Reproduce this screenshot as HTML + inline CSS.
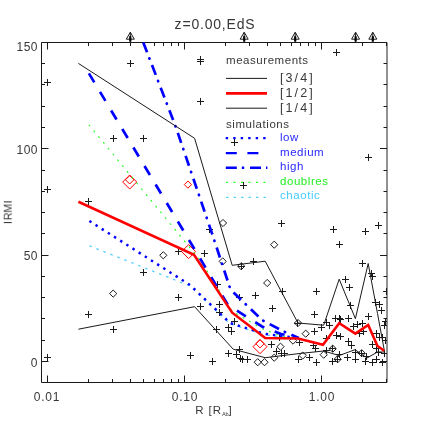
<!DOCTYPE html>
<html><head><meta charset="utf-8"><title>plot</title>
<style>
html,body{margin:0;padding:0;background:#fff;}
body{width:427px;height:427px;position:relative;overflow:hidden;font-family:"Liberation Sans",sans-serif;}
.t{position:absolute;will-change:transform;white-space:nowrap;line-height:1;font-family:"Liberation Sans",sans-serif;}
</style></head><body>
<svg width="427" height="427" viewBox="0 0 427 427" style="position:absolute;left:0;top:0">
<g stroke="#1a1a1a" stroke-width="1" fill="none">
<path d="M41.5 382.5V42.5H387.0"/>
<path d="M41.5 382.5H387.0"/>
<path d="M387.0 42.5V382.5" stroke="#222"/>
<path d="M47.50 382.5v-7M47.50 42.5v7M88.50 382.5v-3.5M88.50 42.5v3.5M112.50 382.5v-3.5M112.50 42.5v3.5M130.50 382.5v-3.5M130.50 42.5v3.5M143.50 382.5v-3.5M143.50 42.5v3.5M154.50 382.5v-3.5M154.50 42.5v3.5M163.50 382.5v-3.5M163.50 42.5v3.5M171.50 382.5v-3.5M171.50 42.5v3.5M178.50 382.5v-3.5M178.50 42.5v3.5M184.50 382.5v-7M184.50 42.5v7M225.50 382.5v-3.5M225.50 42.5v3.5M249.50 382.5v-3.5M249.50 42.5v3.5M267.50 382.5v-3.5M267.50 42.5v3.5M280.50 382.5v-3.5M280.50 42.5v3.5M291.50 382.5v-3.5M291.50 42.5v3.5M300.50 382.5v-3.5M300.50 42.5v3.5M308.50 382.5v-3.5M308.50 42.5v3.5M315.50 382.5v-3.5M315.50 42.5v3.5M321.50 382.5v-7M321.50 42.5v7M362.50 382.5v-3.5M362.50 42.5v3.5M386.50 382.5v-3.5M386.50 42.5v3.5M41.5 361.50h7M387.0 361.50h-7M41.5 340.50h3.5M387.0 340.50h-3.5M41.5 318.50h3.5M387.0 318.50h-3.5M41.5 297.50h3.5M387.0 297.50h-3.5M41.5 276.50h3.5M387.0 276.50h-3.5M41.5 255.50h7M387.0 255.50h-7M41.5 233.50h3.5M387.0 233.50h-3.5M41.5 212.50h3.5M387.0 212.50h-3.5M41.5 191.50h3.5M387.0 191.50h-3.5M41.5 170.50h3.5M387.0 170.50h-3.5M41.5 148.50h7M387.0 148.50h-7M41.5 127.50h3.5M387.0 127.50h-3.5M41.5 106.50h3.5M387.0 106.50h-3.5M41.5 84.50h3.5M387.0 84.50h-3.5M41.5 63.50h3.5M387.0 63.50h-3.5"/>
</g>
<clipPath id="cp"><rect x="41.5" y="42.5" width="345.5" height="340.0"/></clipPath>
<path clip-path="url(#cp)" fill="none" stroke="#1a1a1a" stroke-width="1" d="M127.0 63.5h7.0M130.5 60.0v7.0M44.0 82.5h7.0M47.5 79.0v7.0M197.0 59.5h7.0M200.5 56.0v7.0M197.0 61.5h7.0M200.5 58.0v7.0M197.0 101.5h7.0M200.5 98.0v7.0M110.0 138.5h7.0M113.5 135.0v7.0M140.0 138.5h7.0M143.5 135.0v7.0M44.0 189.5h7.0M47.5 186.0v7.0M85.0 201.5h7.0M88.5 198.0v7.0M333.0 52.5h7.0M336.5 49.0v7.0M365.0 157.5h7.0M368.5 154.0v7.0M278.0 223.5h7.0M281.5 220.0v7.0M330.0 229.5h7.0M333.5 226.0v7.0M362.0 231.5h7.0M365.5 228.0v7.0M375.0 225.5h7.0M378.5 222.0v7.0M336.0 244.5h7.0M339.5 241.0v7.0M206.0 229.5h7.0M209.5 226.0v7.0M231.0 142.5h7.0M234.5 139.0v7.0M240.0 185.5h7.0M243.5 182.0v7.0M175.0 251.5h7.0M178.5 248.0v7.0M201.0 253.5h7.0M204.5 250.0v7.0M140.0 272.5h7.0M143.5 269.0v7.0M175.0 297.5h7.0M178.5 294.0v7.0M197.0 306.5h7.0M200.5 303.0v7.0M85.0 314.5h7.0M88.5 311.0v7.0M110.0 329.5h7.0M113.5 326.0v7.0M44.0 357.5h7.0M47.5 354.0v7.0M187.0 355.5h7.0M190.5 352.0v7.0M209.0 361.5h7.0M212.5 358.0v7.0M216.0 304.5h7.0M219.5 301.0v7.0M216.0 312.5h7.0M219.5 309.0v7.0M214.0 284.5h7.0M217.5 281.0v7.0M213.0 329.5h7.0M216.5 326.0v7.0M231.0 321.5h7.0M234.5 318.0v7.0M225.0 327.5h7.0M228.5 324.0v7.0M228.0 331.5h7.0M231.5 328.0v7.0M236.0 297.5h7.0M239.5 294.0v7.0M225.0 353.5h7.0M228.5 350.0v7.0M233.0 354.5h7.0M236.5 351.0v7.0M237.0 358.5h7.0M240.5 355.0v7.0M236.0 349.5h7.0M239.5 346.0v7.0M250.0 261.5h7.0M253.5 258.0v7.0M238.0 266.5h7.0M241.5 263.0v7.0M279.0 291.5h7.0M282.5 288.0v7.0M252.0 295.5h7.0M255.5 292.0v7.0M269.0 308.5h7.0M272.5 305.0v7.0M276.0 337.5h7.0M279.5 334.0v7.0M268.0 344.5h7.0M271.5 341.0v7.0M233.0 354.5h7.0M236.5 351.0v7.0M239.0 359.5h7.0M242.5 356.0v7.0M244.0 359.5h7.0M247.5 356.0v7.0M273.0 351.5h7.0M276.5 348.0v7.0M278.0 353.5h7.0M281.5 350.0v7.0M281.0 353.5h7.0M284.5 350.0v7.0M295.0 359.5h7.0M298.5 356.0v7.0M313.0 291.5h7.0M316.5 288.0v7.0M311.0 314.5h7.0M314.5 311.0v7.0M346.0 287.5h7.0M349.5 284.0v7.0M342.0 279.5h7.0M345.5 276.0v7.0M347.0 305.5h7.0M350.5 302.0v7.0M332.0 318.5h7.0M335.5 315.0v7.0M336.0 318.5h7.0M339.5 315.0v7.0M345.0 318.5h7.0M348.5 315.0v7.0M323.0 322.5h7.0M326.5 319.0v7.0M326.0 325.5h7.0M329.5 322.0v7.0M318.0 327.5h7.0M321.5 324.0v7.0M311.0 331.5h7.0M314.5 328.0v7.0M333.0 335.5h7.0M336.5 332.0v7.0M337.0 336.5h7.0M340.5 333.0v7.0M323.0 338.5h7.0M326.5 335.0v7.0M296.0 342.5h7.0M299.5 339.0v7.0M310.0 345.5h7.0M313.5 342.0v7.0M312.0 348.5h7.0M315.5 345.0v7.0M306.0 357.5h7.0M309.5 354.0v7.0M313.0 362.5h7.0M316.5 359.0v7.0M329.0 361.5h7.0M332.5 358.0v7.0M344.0 357.5h7.0M347.5 354.0v7.0M345.0 341.5h7.0M348.5 338.0v7.0M348.0 345.5h7.0M351.5 342.0v7.0M336.0 354.5h7.0M339.5 351.0v7.0M323.0 350.5h7.0M326.5 347.0v7.0M329.0 348.5h7.0M332.5 345.0v7.0M334.0 359.5h7.0M337.5 356.0v7.0M359.0 263.5h7.0M362.5 260.0v7.0M368.0 273.5h7.0M371.5 270.0v7.0M369.0 276.5h7.0M372.5 273.0v7.0M372.0 302.5h7.0M375.5 299.0v7.0M376.0 304.5h7.0M379.5 301.0v7.0M378.0 310.5h7.0M381.5 307.0v7.0M365.0 316.5h7.0M368.5 313.0v7.0M359.0 323.5h7.0M362.5 320.0v7.0M354.0 324.5h7.0M357.5 321.0v7.0M337.0 319.5h7.0M340.5 316.0v7.0M382.0 321.5h7.0M385.5 318.0v7.0M383.0 291.5h7.0M386.5 288.0v7.0M294.0 323.5h7.0M297.5 320.0v7.0M356.0 333.5h7.0M359.5 330.0v7.0M360.0 331.5h7.0M363.5 328.0v7.0M373.0 333.5h7.0M376.5 330.0v7.0M376.0 337.5h7.0M379.5 334.0v7.0M379.0 337.5h7.0M382.5 334.0v7.0M381.0 325.5h7.0M384.5 322.0v7.0M369.0 344.5h7.0M372.5 341.0v7.0M373.0 348.5h7.0M376.5 345.0v7.0M375.0 352.5h7.0M378.5 349.0v7.0M352.0 359.5h7.0M355.5 356.0v7.0M362.0 361.5h7.0M365.5 358.0v7.0M369.0 362.5h7.0M372.5 359.0v7.0M373.0 359.5h7.0M376.5 356.0v7.0M379.0 362.5h7.0M382.5 359.0v7.0M352.0 352.5h7.0M355.5 349.0v7.0M381.0 353.5h7.0M384.5 350.0v7.0M363.0 356.5h7.0M366.5 353.0v7.0M382.0 340.5h7.0M385.5 337.0v7.0M358.0 353.5h7.0M361.5 350.0v7.0M350.0 326.5h7.0M353.5 323.0v7.0"/>
<path fill="none" stroke="#1a1a1a" stroke-width="1" d="M219.4 223.0l3.6 -3.6l3.6 3.6l-3.6 3.6zM109.6 293.6l3.6 -3.6l3.6 3.6l-3.6 3.6zM159.7 255.3l3.6 -3.6l3.6 3.6l-3.6 3.6zM219.1 261.4l3.6 -3.6l3.6 3.6l-3.6 3.6zM237.6 266.2l3.6 -3.6l3.6 3.6l-3.6 3.6zM270.6 244.7l3.6 -3.6l3.6 3.6l-3.6 3.6zM263.6 283.0l3.6 -3.6l3.6 3.6l-3.6 3.6zM294.4 323.0l3.6 -3.6l3.6 3.6l-3.6 3.6zM276.9 346.7l3.6 -3.6l3.6 3.6l-3.6 3.6zM270.6 357.7l3.6 -3.6l3.6 3.6l-3.6 3.6zM254.1 362.2l3.6 -3.6l3.6 3.6l-3.6 3.6zM260.9 362.2l3.6 -3.6l3.6 3.6l-3.6 3.6zM289.4 340.6l3.6 -3.6l3.6 3.6l-3.6 3.6zM302.1 333.7l3.6 -3.6l3.6 3.6l-3.6 3.6zM299.1 355.5l3.6 -3.6l3.6 3.6l-3.6 3.6zM320.1 354.7l3.6 -3.6l3.6 3.6l-3.6 3.6zM329.1 348.7l3.6 -3.6l3.6 3.6l-3.6 3.6zM334.1 359.2l3.6 -3.6l3.6 3.6l-3.6 3.6zM358.1 353.2l3.6 -3.6l3.6 3.6l-3.6 3.6z"/>
<path fill="none" stroke="#ff0000" stroke-width="1" d="M122.7 182.0l7.0 -7.0l7.0 7.0l-7.0 7.0zM181.6 251.6l7.0 -7.0l7.0 7.0l-7.0 7.0zM253.0 346.7l7.0 -7.0l7.0 7.0l-7.0 7.0z"/>
<path fill="none" stroke="#ff0000" stroke-width="1" d="M125.5 179.8l4.2 -4.2l4.2 4.2l-4.2 4.2zM255.8 343.7l4.2 -4.2l4.2 4.2l-4.2 4.2z"/>
<path fill="none" stroke="#ff0000" stroke-width="1" d="M184.3 184.6l3.6 -3.6l3.6 3.6l-3.6 3.6z"/>
<path d="M88.9 124.8L200.0 260.0L232.0 311.0L263.0 329.2L282.0 336.0L297.0 338.5" fill="none" stroke="#18ff18" stroke-width="1.1" stroke-dasharray="1.9 5.6" stroke-linecap="butt"/>
<path d="M89.4 245.8L190.0 286.0L230.0 323.6L263.7 334.7L297.0 339.0" fill="none" stroke="#55d0ff" stroke-width="1.3" stroke-dasharray="2.6 4.9"/>
<path d="M89.4 221.0L190.0 285.0L230.0 323.0L263.7 333.7L297.0 338.0" fill="none" stroke="#0000ff" stroke-width="2.5" stroke-dasharray="2.4 4.9"/>
<path d="M88.9 73.4L228.0 305.0L262.0 326.5L281.0 334.0L299.0 338.0" fill="none" stroke="#0000ff" stroke-width="2.7" stroke-dasharray="10.5 11.1"/>
<path d="M143.3 42.5L175.8 127.0L212.2 234.0L230.5 289.5L262.2 320.2L283.2 331.2L298.0 337.8" fill="none" stroke="#0000ff" stroke-width="2.7" stroke-dasharray="10.5 13.7"/>
<path d="M143.3 42.5L175.8 127.0L212.2 234.0L230.5 289.5L262.2 320.2L283.2 331.2L298.0 337.8" fill="none" stroke="#0000ff" stroke-width="2.7" stroke-dasharray="0.4 23.8" stroke-dashoffset="-16.9" stroke-linecap="round"/>
<path d="M78.4 63.4L194.6 138.3L232.2 265.3L265.2 261.2L298.0 323.0L323.7 325.2L339.2 279.2L355.4 318.7L368.2 263.5L377.5 313.5L384.2 349.7" fill="none" stroke="#1a1a1a" stroke-width="1"/>
<path d="M78.4 329.2L194.6 306.7L233.2 349.2L265.2 357.7L298.0 353.7L323.7 351.0L339.2 355.5L355.0 349.7L367.0 358.0L377.5 352.0L384.2 352.0" fill="none" stroke="#1a1a1a" stroke-width="1"/>
<path d="M78.4 201.7L194.0 254.8L232.2 312.7L265.2 338.0L298.0 338.5L323.0 344.7L339.2 323.2L355.4 333.7L368.2 325.0L377.5 346.0L384.2 350.8" fill="none" stroke="#ff0000" stroke-width="2.6" stroke-linejoin="miter"/>
<path fill="none" stroke="#1a1a1a" stroke-width="1" d="M126.30000000000001 39.2L130.3 32.2L134.3 39.2z M130.3 32.5V42"/>
<path fill="none" stroke="#000" stroke-width="2.2" d="M130.3 36.2V41.5"/>
<path fill="none" stroke="#1a1a1a" stroke-width="1" d="M240.2 39.2L244.2 32.2L248.2 39.2z M244.2 32.5V42"/>
<path fill="none" stroke="#000" stroke-width="2.2" d="M244.2 36.2V41.5"/>
<path fill="none" stroke="#1a1a1a" stroke-width="1" d="M291.2 39.2L295.2 32.2L299.2 39.2z M295.2 32.5V42"/>
<path fill="none" stroke="#000" stroke-width="2.2" d="M295.2 36.2V41.5"/>
<path fill="none" stroke="#1a1a1a" stroke-width="1" d="M351.6 39.2L355.6 32.2L359.6 39.2z M355.6 32.5V42"/>
<path fill="none" stroke="#000" stroke-width="2.2" d="M355.6 36.2V41.5"/>
<path fill="none" stroke="#1a1a1a" stroke-width="1" d="M368.8 39.2L372.8 32.2L376.8 39.2z M372.8 32.5V42"/>
<path fill="none" stroke="#000" stroke-width="2.2" d="M372.8 36.2V41.5"/>
<path d="M226 78.4H267" stroke="#1a1a1a" stroke-width="1"/>
<path d="M226 93.4H267" stroke="#ff0000" stroke-width="2.6"/>
<path d="M226 108.2H267" stroke="#1a1a1a" stroke-width="1"/>
<path d="M225.7 138.2H270" fill="none" stroke="#0000ff" stroke-width="2.3" stroke-dasharray="2.4 5.1"/>
<path d="M225.8 153.1H267" fill="none" stroke="#0000ff" stroke-width="2.4" stroke-dasharray="11 10.6"/>
<path d="M225.8 167.8H267.4" fill="none" stroke="#0000ff" stroke-width="2.4" stroke-dasharray="11 5 2.4 5.8"/>
<path d="M226 182.4H267.5" fill="none" stroke="#22ff22" stroke-width="1.2" stroke-dasharray="1.9 5.6"/>
<path d="M226 197.4H267.5" fill="none" stroke="#55d0ff" stroke-width="1.3" stroke-dasharray="2.5 5"/>
</svg>
<div class="t" style="left:214.6px;top:24.3px;font-size:14px;color:#383838;letter-spacing:0.8px;transform:translate(-50%,-50%)">z=0.00,EdS</div><div class="t" style="left:37.9px;top:47.0px;font-size:12px;color:#383838;letter-spacing:0.5px;transform:translate(-100%,-50%)">150</div><div class="t" style="left:37.9px;top:150.2px;font-size:12px;color:#383838;letter-spacing:0.5px;transform:translate(-100%,-50%)">100</div><div class="t" style="left:37.9px;top:256.4px;font-size:12px;color:#383838;letter-spacing:0.5px;transform:translate(-100%,-50%)">50</div><div class="t" style="left:37.9px;top:362.9px;font-size:12px;color:#383838;letter-spacing:0.5px;transform:translate(-100%,-50%)">0</div><div class="t" style="left:47.3px;top:397px;font-size:12px;color:#383838;letter-spacing:0.8px;transform:translate(-50%,-50%)">0.01</div><div class="t" style="left:185.10000000000002px;top:397px;font-size:12px;color:#383838;letter-spacing:0.8px;transform:translate(-50%,-50%)">0.10</div><div class="t" style="left:322.1px;top:397px;font-size:12px;color:#383838;letter-spacing:0.8px;transform:translate(-50%,-50%)">1.00</div><div class="t" style="left:214.3px;top:411px;font-size:11.5px;color:#383838;letter-spacing:0.9px;transform:translate(-50%,-50%)">R&nbsp;[R<span style="font-size:5.5px;letter-spacing:0;position:relative;top:1.5px">Ab</span>]</div><div class="t" style="left:7.7px;top:212.2px;font-size:10.5px;color:#383838;letter-spacing:0px;transform:translate(-50%,-50%) rotate(-90deg)">RM</div><svg width="16" height="40" style="position:absolute;left:0;top:195px"><path d="M3.8 6.9H11.7M3.8 27.6H11.7" stroke="#2a2a2a" stroke-width="1" fill="none"/></svg><div class="t" style="left:226px;top:60.5px;font-size:11.5px;color:#383838;letter-spacing:0.55px;transform:translate(0,-50%)">measurements</div><div class="t" style="left:226px;top:124.5px;font-size:11.5px;color:#383838;letter-spacing:0.55px;transform:translate(0,-50%)">simulations</div><div class="t" style="left:280.4px;top:78px;font-size:12.5px;color:#383838;letter-spacing:2.1px;transform:translate(0,-50%)">[3/4]</div><div class="t" style="left:280.4px;top:93px;font-size:12.5px;color:#383838;letter-spacing:2.1px;transform:translate(0,-50%)">[1/2]</div><div class="t" style="left:280.4px;top:108px;font-size:12.5px;color:#383838;letter-spacing:2.1px;transform:translate(0,-50%)">[1/4]</div><div class="t" style="left:280.4px;top:138px;font-size:11.5px;color:#2a2aff;letter-spacing:0.55px;transform:translate(0,-50%)">low</div><div class="t" style="left:280.4px;top:153px;font-size:11.5px;color:#2a2aff;letter-spacing:0.55px;transform:translate(0,-50%)">medium</div><div class="t" style="left:280.4px;top:167.3px;font-size:11.5px;color:#2a2aff;letter-spacing:0.55px;transform:translate(0,-50%)">high</div><div class="t" style="left:280.4px;top:182px;font-size:11.5px;color:#22ee22;letter-spacing:0.55px;transform:translate(0,-50%)">doublres</div><div class="t" style="left:280.4px;top:196.2px;font-size:11.5px;color:#44ccff;letter-spacing:0.55px;transform:translate(0,-50%)">chaotic</div>
</body></html>
